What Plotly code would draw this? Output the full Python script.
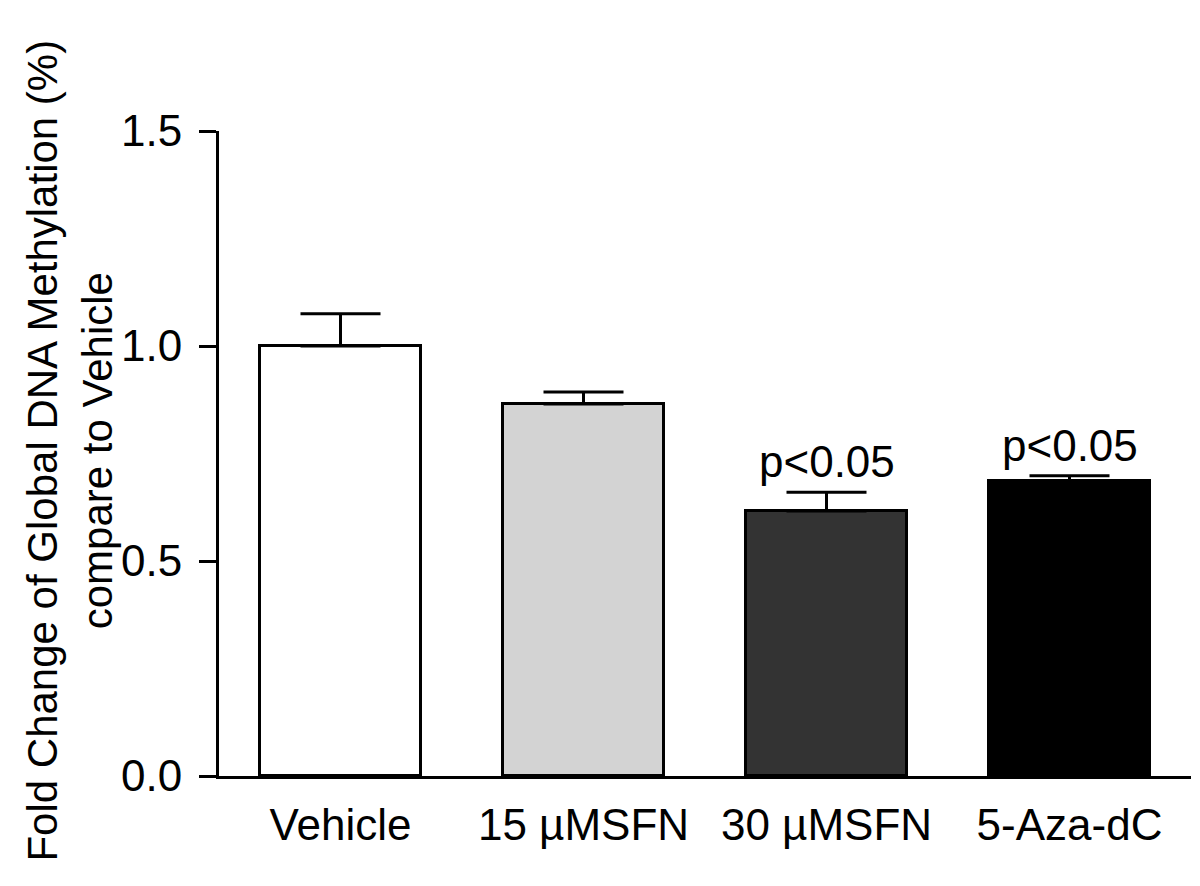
import plotly.graph_objects as go

categories = ["Vehicle", "15 µMSFN", "30 µMSFN", "5-Aza-dC"]
means = [1.0, 0.865, 0.616, 0.686]
errors = [0.075, 0.028, 0.044, 0.012]
bar_colors = ["#ffffff", "#d3d3d3", "#333333", "#000000"]
sig_labels = ["", "", "p<0.05", "p<0.05"]
y_ticks = [0.0, 0.5, 1.0, 1.5]
y_ticktext = ["0.0", "0.5", "1.0", "1.5"]

FONT = "Liberation Sans, Arial, sans-serif"

fig = go.Figure()
fig.add_trace(go.Bar(
    x=categories, y=means, width=0.66,
    marker=dict(color=bar_colors, line=dict(color="black", width=3)),
    error_y=dict(type="data", symmetric=False, array=errors,
                 arrayminus=[0] * len(errors), thickness=3, width=40,
                 color="black"),
    showlegend=False,
))

for c, m, e, s in zip(categories, means, errors, sig_labels):
    if s:
        fig.add_annotation(x=c, y=m + e, text=s, showarrow=False,
                           yanchor="bottom", yshift=4,
                           font=dict(family=FONT, size=44, color="black"))

fig.add_annotation(
    xref="paper", yref="paper", x=-0.153, y=0.505,
    text="Fold Change of Global DNA Methylation (%)<br>compare to Vehicle",
    textangle=-90, showarrow=False, xanchor="center", yanchor="middle",
    font=dict(family=FONT, size=42, color="black"))

fig.update_layout(
    width=1200, height=886,
    margin=dict(l=211, r=17, t=123, b=118),
    paper_bgcolor="white", plot_bgcolor="white",
    font=dict(family=FONT, size=44, color="black"),
    bargap=0,
)
fig.update_xaxes(range=[-0.5, 3.5], showline=True, linewidth=3,
                 linecolor="black", ticks="", showgrid=False,
                 ticklabelstandoff=8,
                 tickfont=dict(family=FONT, size=44, color="black"))
fig.update_yaxes(range=[0, 1.5], tickvals=y_ticks, ticktext=y_ticktext,
                 showline=True, linewidth=3, linecolor="black",
                 ticks="outside", ticklen=17, tickwidth=3, tickcolor="black",
                 showgrid=False, zeroline=False, ticklabelstandoff=8,
                 tickfont=dict(family=FONT, size=44, color="black"))

fig.write_html("out.html")
